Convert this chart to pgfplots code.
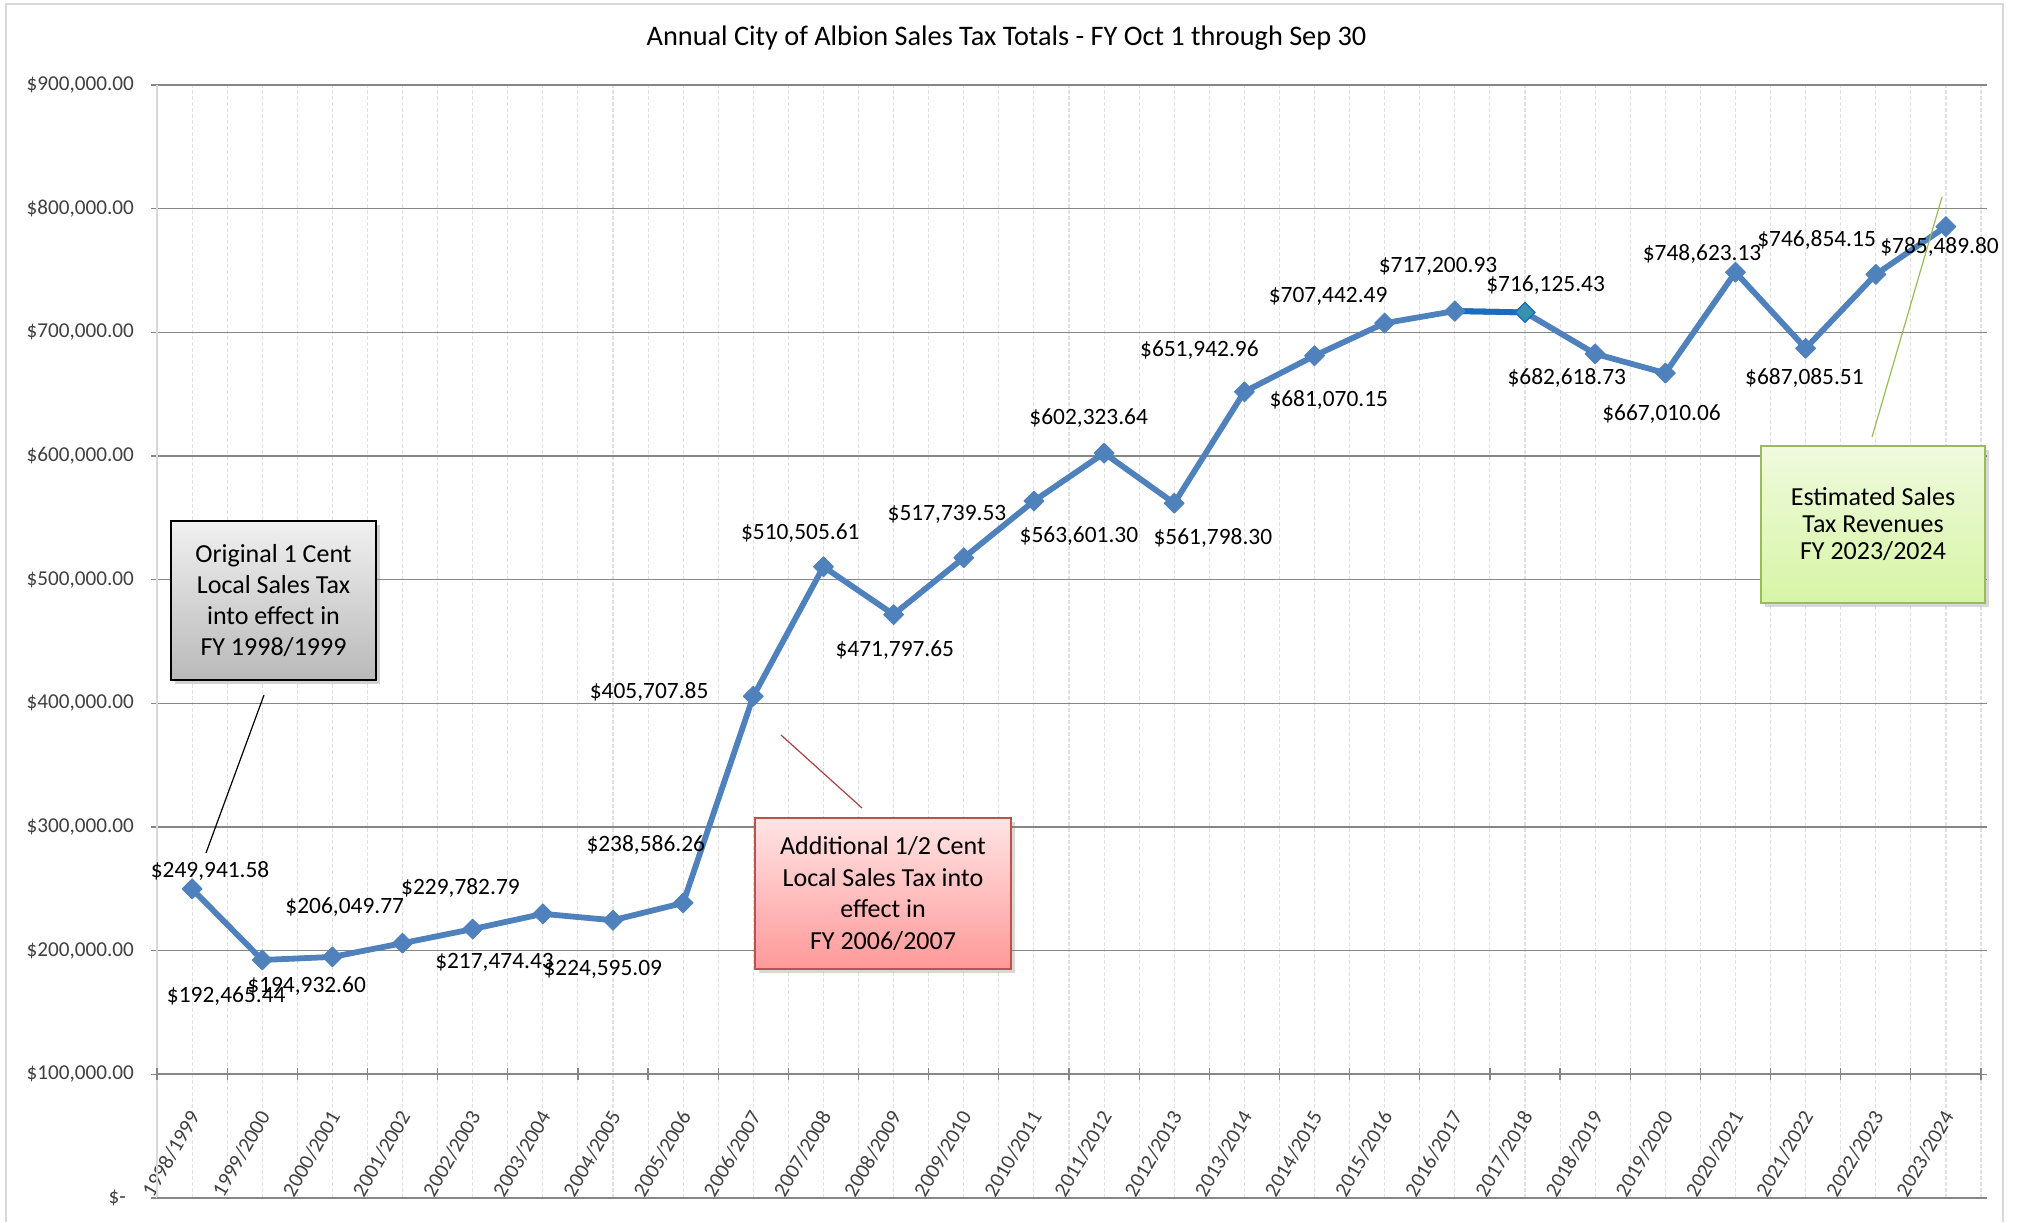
\documentclass[border=0pt]{standalone}
\usepackage{fontspec}
\setmainfont{Carlito}
\usepackage{pgfplots}
\pgfplotsset{compat=1.18}
\usepackage{pgfplotstable}
\usetikzlibrary{shadows}

\definecolor{lineblue}{RGB}{79,129,189}
\definecolor{segblue}{RGB}{21,110,190}
\definecolor{tealmk}{RGB}{55,145,175}
\definecolor{gridgray}{RGB}{134,134,134}
\definecolor{dashgray}{RGB}{225,225,225}
\definecolor{ticktext}{RGB}{64,64,64}
\definecolor{borderg}{RGB}{217,217,217}
\definecolor{redborder}{RGB}{192,80,77}
\definecolor{redtop}{RGB}{255,228,228}
\definecolor{redbot}{RGB}{255,153,153}
\definecolor{greenborder}{RGB}{155,187,89}
\definecolor{greentop}{RGB}{240,250,222}
\definecolor{greenbot}{RGB}{214,245,165}
\definecolor{graytop}{RGB}{240,240,240}
\definecolor{graybot}{RGB}{185,185,185}

\pgfplotstableread{
x y dx dy lab
0 249941.58 9.0 9.0 {\$249,941.58}
1 192465.44 -18.0 -18.0 {\$192,465.44}
2 194932.60 -12.9 -14.8 {\$194,932.60}
3 206049.77 -28.9 18.0 {\$206,049.77}
4 217474.43 10.9 -16.7 {\$217,474.43}
5 229782.79 -41.2 12.9 {\$229,782.79}
6 224595.09 -5.1 -24.4 {\$224,595.09}
7 238586.26 -18.7 28.9 {\$238,586.26}
8 405707.85 -52.1 1.9 {\$405,707.85}
9 510505.61 -11.6 16.7 {\$510,505.61}
10 471797.65 0.6 -18.0 {\$471,797.65}
11 517739.53 -8.4 21.9 {\$517,739.53}
12 563601.30 22.5 -17.4 {\$563,601.30}
13 602323.64 -7.7 17.4 {\$602,323.64}
14 561798.30 19.3 -17.4 {\$561,798.30}
15 651942.96 -22.5 20.6 {\$651,942.96}
16 681070.15 7.1 -21.9 {\$681,070.15}
17 707442.49 -28.3 13.5 {\$707,442.49}
18 717200.93 -8.4 22.5 {\$717,200.93}
19 716125.43 10.3 13.5 {\$716,125.43}
20 682618.73 -14.2 -12.2 {\$682,618.73}
21 667010.06 -1.9 -20.6 {\$667,010.06}
22 748623.13 -16.7 9.0 {\$748,623.13}
23 687085.51 -0.6 -14.8 {\$687,085.51}
24 746854.15 -29.6 17.4 {\$746,854.15}
25 785489.80 -3.2 -10.3 {\$785,489.80}
}\salestax

\begin{document}
\begin{tikzpicture}
\path[use as bounding box] (0,0) rectangle (1008.5pt,611pt);
\fill[white] (0,0) rectangle (1008.5pt,611pt);
\draw[borderg, line width=0.75pt] (3pt,0pt) -- (3pt,609pt) -- (1001.5pt,609pt) -- (1001.5pt,0pt);

\node[font=\fontsize{14.15}{17}\selectfont, text=black] at (503.3pt,591.7pt)
  {Annual City of Albion Sales Tax Totals - FY Oct 1 through Sep 30};

\begin{axis}[
  at={(78.5pt,12pt)}, anchor=south west,
  scale only axis, width=912pt, height=556.5pt,
  xmin=-0.5, xmax=25.5, ymin=0, ymax=900000,
  axis line style={draw=none},
  clip=false,
  xtick={0,...,25},
  xticklabels={1998/1999,1999/2000,2000/2001,2001/2002,2002/2003,2003/2004,2004/2005,2005/2006,2006/2007,2007/2008,2008/2009,2009/2010,2010/2011,2011/2012,2012/2013,2013/2014,2014/2015,2015/2016,2016/2017,2017/2018,2018/2019,2019/2020,2020/2021,2021/2022,2022/2023,2023/2024},
  xtick style={draw=none},
  minor xtick={-0.5,0.5,...,25.5},
  minor tick length=0pt,
  xmajorgrids, xminorgrids,
  x grid style={dashgray, dash pattern=on 2pt off 1pt, line width=0.55pt},
  ymajorgrids,
  y grid style={gridgray, line width=0.75pt},
  ytick={0,100000,200000,300000,400000,500000,600000,700000,800000,900000},
  yticklabels={{\$-\kern4pt},{\$100,000.00},{\$200,000.00},{\$300,000.00},{\$400,000.00},{\$500,000.00},{\$600,000.00},{\$700,000.00},{\$800,000.00},{\$900,000.00}},
  scaled y ticks=false,
  ytick style={gridgray, line width=0.6pt},
  tick align=outside, major tick length=3pt,
  yticklabel style={xshift=-5pt, font=\fontsize{10.6}{12}\selectfont, text=ticktext},
  xticklabel style={yshift=48.5pt, xshift=3pt, rotate=60, anchor=east, font=\fontsize{10.6}{12}\selectfont, text=ticktext},
  /pgf/number format/assume math mode=true,
]
\draw[borderg, line width=0.75pt] (axis cs:-0.5,0) -- (axis cs:-0.5,900000);
\draw[gridgray, line width=1pt] (axis cs:-0.5,100000) -- (axis cs:25.5,100000);
\draw[gridgray, line width=1pt] (axis cs:-0.5,0) -- (axis cs:25.5,0);
\pgfplotsinvokeforeach{-0.5,0.5,...,25.5}{
  \draw[gridgray, line width=0.6pt] ([yshift=-3pt]axis cs:#1,100000) -- ([yshift=3pt]axis cs:#1,100000);
}

\addplot[lineblue, line width=2.9pt, line join=round,
  mark=square*, mark size=3.5pt,
  mark options={rotate=45, fill=lineblue, draw=lineblue, line width=0.5pt},
  nodes near coords, point meta=explicit symbolic,
  visualization depends on={\thisrow{dx} \as \dx},
  visualization depends on={\thisrow{dy} \as \dy},
  every node near coord/.append style={anchor=center, xshift=\dx pt, yshift=\dy pt,
     font=\fontsize{11.7}{14}\selectfont, text=black},
] table[x=x, y=y, meta=lab] {\salestax};

\addplot[segblue, line width=2.9pt, mark=none] coordinates {(18,717200.93) (19,716125.43)};
\addplot[only marks, mark=square*, mark size=3.5pt,
  mark options={rotate=45, fill=lineblue, draw=lineblue, line width=0.5pt}] coordinates {(18,717200.93)};
\addplot[only marks, mark=square*, mark size=3.5pt,
  mark options={rotate=45, fill=tealmk, draw=segblue, line width=0.6pt}] coordinates {(19,716125.43)};
\end{axis}

% connectors
\draw[black, line width=0.6pt] (132pt,263.5pt) -- (103pt,184.5pt);
\draw[redborder!85!black, line width=0.6pt] (390.5pt,243.5pt) -- (431pt,207pt);
\draw[greenborder, line width=0.6pt] (936pt,392.5pt) -- (971pt,512.5pt);

% callout boxes
\node[draw=black, line width=1pt, top color=graytop, bottom color=graybot,
  drop shadow={shadow xshift=2pt, shadow yshift=-2pt, opacity=0.35},
  minimum width=102.5pt, minimum height=79.5pt, inner sep=0pt, align=center,
  font=\fontsize{13}{15.6}\selectfont] at (136.75pt,310.75pt)
  {Original 1 Cent\\Local Sales Tax\\into effect in\\FY 1998/1999};

\node[draw=redborder, line width=0.8pt, top color=redtop, bottom color=redbot,
  drop shadow={shadow xshift=2pt, shadow yshift=-2pt, opacity=0.3},
  minimum width=128pt, minimum height=75.5pt, inner sep=0pt, align=center,
  font=\fontsize{13}{15.9}\selectfont] at (441.5pt,164.25pt)
  {Additional 1/2 Cent\\Local Sales Tax into\\effect in\\FY 2006/2007};

\node[draw=greenborder, line width=0.8pt, top color=greentop, bottom color=greenbot,
  drop shadow={shadow xshift=2pt, shadow yshift=-2pt, opacity=0.3},
  minimum width=112pt, minimum height=78.5pt, inner sep=0pt, align=center,
  font=\fontsize{13}{13.5}\selectfont] at (936.5pt,348.75pt)
  {Estimated Sales\\Tax Revenues\\FY 2023/2024};
\end{tikzpicture}
\end{document}
